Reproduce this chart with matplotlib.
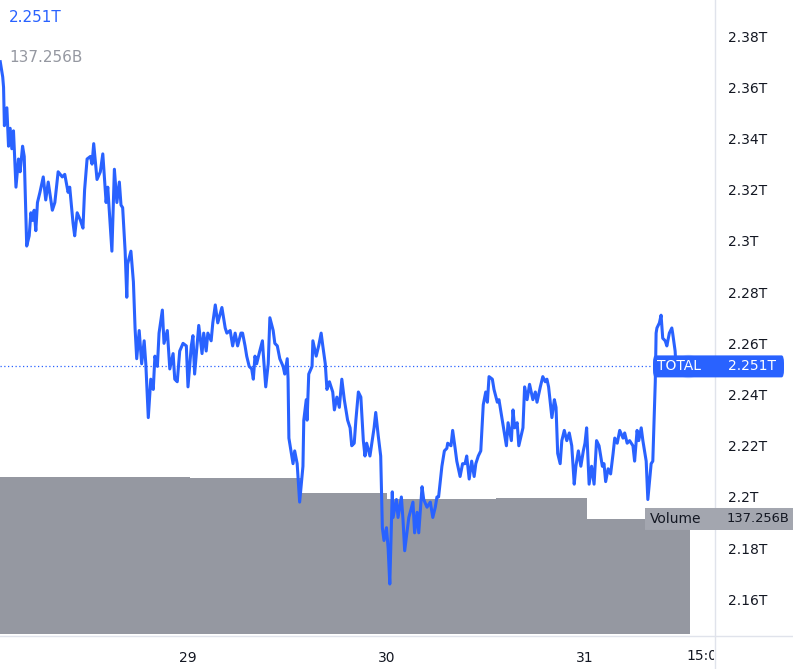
import matplotlib
matplotlib.use("Agg")
import matplotlib.pyplot as plt
import matplotlib.transforms as mtransforms
from matplotlib.patches import Rectangle, FancyBboxPatch
from matplotlib.lines import Line2D

# hours since 28th 00:00, total market cap in T
hours = [1.3, 1.6, 1.7, 1.8, 2.1, 2.3, 2.5, 2.7, 2.9, 3.2, 3.5, 3.7, 4.0, 4.2, 4.5, 4.8,
         5.0, 5.2, 5.4, 5.6, 5.8, 6.1, 6.5, 6.8, 7.1, 7.6, 7.9, 8.3, 8.8, 9.1, 9.5, 9.7,
         10.1, 10.3, 10.6, 11.0, 11.3, 11.5, 11.8, 12.2, 12.4, 12.6, 13.0, 13.4, 13.7, 14.1,
         14.3, 14.8, 15.1, 15.4, 15.7, 15.9, 16.1, 16.4, 16.6, 16.7, 17.1, 17.4, 17.6, 17.8,
         18.1, 18.4, 18.7, 18.9, 19.2, 19.5, 19.8, 20.0, 20.3, 20.5, 20.9, 21.1, 21.5, 21.8,
         22.2, 22.4, 22.7, 23.0, 23.4, 23.8, 24.0, 24.4, 24.6, 24.8, 25.3, 25.7, 25.9, 26.2,
         26.4, 26.8, 27.0, 27.3, 27.6, 28.1, 28.5, 28.7, 29.1, 29.4, 29.7, 30.0, 30.4, 30.6,
         30.9, 31.1, 31.4, 31.7, 31.9, 32.1, 32.3, 32.6, 33.0, 33.1, 33.4, 33.7, 33.9, 34.3,
         34.5, 34.8, 35.1, 35.5, 35.7, 36.0, 36.1, 36.2, 36.7, 36.9, 37.2, 37.5, 37.9, 38.0,
         38.3, 38.4, 38.6, 39.0, 39.1, 39.5, 39.8, 40.1, 40.3, 40.6, 40.8, 41.1, 41.5, 41.7,
         42.0, 42.3, 42.6, 42.9, 43.1, 43.3, 43.6, 43.8, 44.1, 44.3, 44.6, 44.9, 45.2, 45.4,
         45.6, 46.0, 46.5, 46.7, 47.0, 47.3, 47.5, 47.7, 48.0, 48.2, 48.4, 48.7, 48.8, 49.2,
         49.4, 49.8, 50.0, 50.2, 50.5, 50.7, 51.2, 51.4, 51.7, 51.9, 52.3, 52.5, 52.9, 53.3,
         53.6, 53.9, 54.1, 54.3, 54.7, 55.0, 55.3, 55.4, 55.8, 56.0, 56.3, 56.5, 56.9, 57.2,
         57.5, 57.7, 58.0, 58.3, 58.6, 58.8, 59.1, 59.4, 59.7, 60.0, 60.2, 60.4, 60.8, 61.0,
         61.4, 61.6, 62.0, 62.2, 62.5, 62.7, 63.1, 63.3, 63.5, 63.8, 64.0, 64.5, 64.7, 65.0,
         65.3, 65.7, 66.0, 66.2, 66.6, 66.9, 67.2, 67.4, 67.6, 68.0, 68.3, 68.5, 68.7, 69.0,
         69.2, 69.5, 69.8, 70.1, 70.4, 70.7, 70.9, 71.2, 71.5, 71.8, 72.0, 72.2, 72.5, 72.8,
         73.1, 73.4, 73.7, 74.1, 74.3, 74.5, 74.8, 75.1, 75.4, 75.6, 75.9, 76.2, 76.6, 76.8,
         77.1, 77.4, 77.8, 78.0, 78.3, 78.5, 78.8, 79.0, 79.4, 79.6, 80.0, 80.2, 80.5, 80.6,
         80.7, 81.0, 81.2, 81.4, 81.7, 81.9, 82.2, 82.5, 82.6, 82.9, 83.0]
total = [2.370, 2.364, 2.360, 2.345, 2.352, 2.337, 2.344, 2.336, 2.343, 2.321, 2.332, 2.327,
         2.337, 2.333, 2.298, 2.302, 2.311, 2.308, 2.312, 2.304, 2.315, 2.319, 2.325, 2.316,
         2.323, 2.312, 2.315, 2.327, 2.325, 2.326, 2.319, 2.321, 2.307, 2.302, 2.311, 2.308,
         2.305, 2.320, 2.332, 2.333, 2.330, 2.338, 2.324, 2.327, 2.334, 2.315, 2.321, 2.296,
         2.328, 2.315, 2.323, 2.314, 2.313, 2.296, 2.278, 2.291, 2.296, 2.284, 2.266, 2.254,
         2.265, 2.252, 2.261, 2.252, 2.231, 2.246, 2.242, 2.255, 2.251, 2.264, 2.273, 2.260,
         2.265, 2.250, 2.256, 2.246, 2.245, 2.257, 2.260, 2.259, 2.243, 2.259, 2.263, 2.248,
         2.267, 2.256, 2.264, 2.257, 2.264, 2.261, 2.268, 2.275, 2.268, 2.274, 2.266, 2.264,
         2.265, 2.259, 2.264, 2.259, 2.264, 2.264, 2.259, 2.255, 2.251, 2.250, 2.246, 2.255,
         2.252, 2.256, 2.261, 2.256, 2.243, 2.252, 2.270, 2.265, 2.260, 2.259, 2.254, 2.251,
         2.248, 2.254, 2.246, 2.223, 2.213, 2.218, 2.213, 2.198, 2.212, 2.230, 2.238, 2.230,
         2.248, 2.251, 2.261, 2.255, 2.259, 2.264, 2.259, 2.252, 2.242, 2.245, 2.241, 2.234,
         2.239, 2.235, 2.246, 2.238, 2.234, 2.230, 2.227, 2.220, 2.221, 2.230, 2.241, 2.239,
         2.222, 2.216, 2.221, 2.216, 2.227, 2.233, 2.224, 2.216, 2.188, 2.183, 2.188, 2.180,
         2.166, 2.202, 2.192, 2.199, 2.192, 2.200, 2.191, 2.179, 2.187, 2.192, 2.198, 2.186,
         2.194, 2.186, 2.204, 2.199, 2.196, 2.198, 2.192, 2.196, 2.200, 2.200, 2.212, 2.218,
         2.219, 2.221, 2.220, 2.226, 2.219, 2.214, 2.208, 2.213, 2.213, 2.216, 2.207, 2.214,
         2.208, 2.213, 2.216, 2.218, 2.236, 2.241, 2.237, 2.247, 2.246, 2.242, 2.237, 2.238,
         2.230, 2.226, 2.220, 2.229, 2.222, 2.234, 2.227, 2.229, 2.220, 2.227, 2.243, 2.238,
         2.244, 2.238, 2.241, 2.237, 2.243, 2.247, 2.245, 2.246, 2.243, 2.231, 2.238, 2.235,
         2.217, 2.213, 2.222, 2.226, 2.222, 2.225, 2.220, 2.205, 2.212, 2.218, 2.212, 2.218,
         2.221, 2.227, 2.205, 2.212, 2.205, 2.222, 2.220, 2.212, 2.213, 2.206, 2.211, 2.209,
         2.217, 2.223, 2.221, 2.226, 2.223, 2.225, 2.221, 2.222, 2.220, 2.214, 2.226, 2.222,
         2.227, 2.222, 2.214, 2.199, 2.213, 2.214, 2.245, 2.264, 2.266, 2.268, 2.271, 2.262,
         2.261, 2.259, 2.264, 2.266, 2.264, 2.257, 2.251]

# volume bars (B), with their edges in hours
vol_edges = [0.0, 24.2, 37.7, 48.1, 61.2, 72.2, 84.7]
volume_b = [187.4, 186.2, 168.3, 161.1, 162.3, 137.256]

last_total = 2.251
last_volume = 137.256
price_ticks = [2.16, 2.18, 2.20, 2.22, 2.24, 2.26, 2.28, 2.30, 2.32, 2.34, 2.36, 2.38]
day_ticks = [24, 48, 72]
day_labels = ["29", "30", "31"]

BLUE = "#2962ff"
GRAY = "#9598a1"
TXT = "#131722"
SEP = "#e0e3eb"

W, H = 793, 669
fig = plt.figure(figsize=(W / 100, H / 100), dpi=100)
rect = [0, 1 - 636 / H, 714 / W, 636 / H]

axv = fig.add_axes(rect, zorder=1)
ax = fig.add_axes(rect, zorder=2, sharex=axv)
ax.patch.set_visible(False)

# volume
lefts = vol_edges[:-1]
widths = [b - a for a, b in zip(vol_edges[:-1], vol_edges[1:])]
axv.bar(lefts, volume_b, width=widths, align="edge", color=GRAY, linewidth=0)
axv.set_ylim(-2.4, 756.7)
axv.axis("off")

# price line
ax.plot(hours, total, color=BLUE, lw=2.2, solid_joinstyle="round", zorder=3)
ax.axhline(last_total, color=BLUE, lw=0.9, ls=(0, (1, 2)), zorder=2)
ax.scatter([84.45], [last_total], s=260, facecolor=BLUE, alpha=0.12,
           edgecolor=BLUE, linewidth=1, zorder=2)

ax.set_xlim(1.27, 87.6)
ax.set_ylim(2.1457, 2.3941)
for s in ax.spines.values():
    s.set_visible(False)

ax.yaxis.tick_right()
ax.set_yticks(price_ticks)
ax.set_yticklabels([f"{v:g}T" for v in price_ticks])
ax.tick_params(axis="y", length=0, pad=10, labelsize=10, labelcolor=TXT)
ax.set_xticks(day_ticks)
ax.set_xticklabels(day_labels)
ax.tick_params(axis="x", length=0, pad=11, labelsize=10, labelcolor=TXT)

# separators
fig.add_artist(Line2D([714.5 / W] * 2, [0, 1], color=SEP, lw=1, transform=fig.transFigure))
fig.add_artist(Line2D([0, 1], [1 - 636 / H] * 2, color=SEP, lw=1, transform=fig.transFigure))

# clipped "15:00" label
t = fig.text(706 / W, 1 - 656 / H, "15:00", ha="center", va="center",
             fontsize=10, color=TXT)
t.set_clip_path(Rectangle((0, 0), 714 / W, 1, transform=fig.transFigure))

# legend values top-left
fig.text(9 / W, 1 - 18 / H, f"{last_total}T", color=BLUE, fontsize=11, va="center")
fig.text(9 / W, 1 - 57 / H, f"{last_volume}B", color=GRAY, fontsize=11, va="center")

# price label box
tr = mtransforms.blended_transform_factory(fig.transFigure, ax.transData)
box_h = 22 / 636 * (2.3941 - 2.1457)
fig.add_artist(FancyBboxPatch((653 / W, last_total - box_h / 2), 131 / W, box_h,
                              boxstyle="round,pad=0,rounding_size=0.003",
                              facecolor=BLUE, edgecolor="none", transform=tr, zorder=5))
fig.text(657 / W, last_total, "TOTAL", transform=tr, color="white", fontsize=10,
         va="center", zorder=6)
fig.text(728 / W, last_total, f"{last_total}T", transform=tr, color="white",
         fontsize=10, va="center", zorder=6)

# volume label box
trv = mtransforms.blended_transform_factory(fig.transFigure, axv.transData)
vbox_h = 22 / 636 * (756.7 + 2.4)
fig.add_artist(FancyBboxPatch((645 / W, last_volume - vbox_h / 2), 150 / W, vbox_h,
                              boxstyle="round,pad=0,rounding_size=0.003",
                              facecolor="#a3a6af", edgecolor="none", transform=trv, zorder=5))
fig.text(650 / W, last_volume, "Volume", transform=trv, color=TXT, fontsize=10,
         va="center", zorder=6)
fig.text(727 / W, last_volume, f"{last_volume}B", transform=trv, color=TXT,
         fontsize=9.4, va="center", zorder=6)

fig.savefig("out.png", dpi=100)
